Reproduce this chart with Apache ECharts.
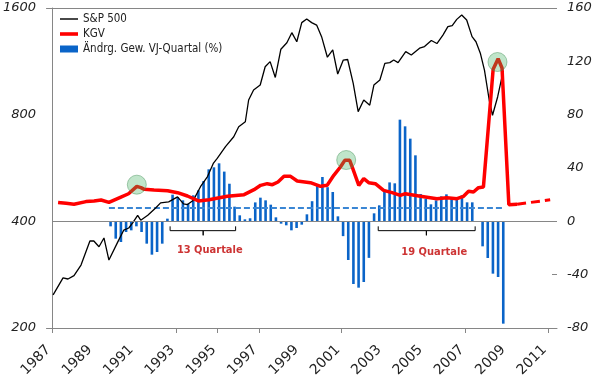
<!DOCTYPE html>
<html>
<head>
<meta charset="utf-8">
<script src="https://cdn.jsdelivr.net/npm/echarts@6/dist/echarts.min.js"></script>
<style>
html,body{margin:0;padding:0;background:#fff;}
#chart{width:595px;height:384px;}
</style>
</head>
<body>
<div id="chart"></div>
<script>
// ---------- data ----------
const xTickLabels = [1987,1989,1991,1993,1995,1997,1999,2001,2003,2005,2007,2009,2011];
const xTickMarks = [1987,1993,1995,1997,2001,2007,2011];
const leftTicks = [200,400,800,1600];
const rightTicks = [-80,-40,0,40,80,120,160];

const spYears = [1987.05,1987.53,1987.77,1988.06,1988.40,1988.83,1989.02,1989.27,1989.51,1989.75,1990.18,1990.47,1990.71,1990.90,1991.14,1991.29,1991.63,1992.01,1992.25,1992.64,1993.07,1993.36,1993.55,1993.84,1994.18,1994.52,1994.81,1994.99,1995.39,1995.79,1996.03,1996.35,1996.51,1996.75,1997.07,1997.31,1997.55,1997.80,1998.07,1998.36,1998.60,1998.84,1999.08,1999.32,1999.56,1999.80,2000.04,2000.32,2000.58,2000.82,2001.09,2001.30,2001.57,2001.81,2002.08,2002.37,2002.57,2002.86,2003.10,2003.34,2003.53,2003.74,2004.11,2004.38,2004.78,2005.02,2005.35,2005.62,2005.91,2006.15,2006.36,2006.58,2006.82,2007.06,2007.32,2007.51,2007.72,2007.92,2008.15,2008.31,2008.56,2008.83];
const spValues = [248,277,275,281,301,352,352,339,359,311,350,378,383,396,416,403,416,436,451,454,469,448,446,459,501,535,584,602,650,693,740,764,880,939,970,1092,1129,1019,1224,1277,1363,1285,1455,1490,1455,1432,1328,1162,1218,1042,1141,1145,981,816,880,851,970,1002,1116,1122,1141,1122,1205,1179,1232,1245,1295,1270,1342,1417,1427,1486,1528,1480,1328,1285,1193,1069,880,797,899,1064];

const kgvYears = [1987.29,1987.68,1988.06,1988.64,1989.03,1989.37,1989.75,1990.33,1990.7,1991.1,1991.3,1991.46,1991.93,1992.59,1993.07,1993.55,1994.08,1994.6,1994.84,1995.48,1996.29,1996.77,1997.09,1997.41,1997.66,1997.93,1998.22,1998.54,1998.86,1999.5,1999.99,2000.31,2000.63,2000.95,2001.16,2001.4,2001.55,2001.84,2002.08,2002.32,2002.64,2003.04,2003.45,2003.85,2004.09,2004.82,2005.62,2006.1,2006.59,2006.91,2007.15,2007.39,2007.63,2007.87,2008.34,2008.58,2008.77,2009.1,2009.5];
const kgvValues = [14.2,13.5,12.8,14.8,15.3,16,14.2,18.2,20.7,26.2,25.3,24,23.5,23,21.5,19,15.3,16.25,17,18.75,20,23.75,27,28.25,27.5,29.5,33.75,33.75,30.25,29,26.25,27,34.5,40.75,45.75,45.75,39.5,27,32,29,28.25,23.25,21.5,19.5,20.75,18.75,17,17.75,17,18.75,22.5,22,25.25,25.75,114,122,115,12.5,12.8];

const kgvForecastYears = [2009.5,2011.1];
const kgvForecastValues = [12.8,16.2];

const barFirstQuarter = 1989.83;
const barValues = [-3.75,-13,-15.5,-8,-6.75,-3.75,-8,-16.75,-25,-23,
  -16.75,2,20,18.25,15.75,13.25,19.5,23.25,30.25,39,
  40.5,43.5,37.3,28.2,11,4.5,1.5,2.3,14.2,17.75,
  15.75,12.5,3,-1.75,-3,-6.75,-5,-2.5,5.25,15.1,
  26.5,33.25,25.6,22,3.75,-11.1,-29,-47,-49.75,-45.5,
  -27.4,6,12,22,29.2,28.5,76.25,71.25,62,49.5,
  20.5,17,12.75,15.75,18.75,20.25,17,16.25,19.5,14.25,
  14.25,0,-18.75,-27.5,-39.25,-41.75,-76.75];

const avgYears = [1989.75,2008.83];
const avgValues = [10,10];

const highlightYears = [1991.1,2001.23,2008.55];
const highlightValues = [27.5,46,119.5];

const bracketNames = ['13 Quartale','19 Quartale'];
const bracketStart = [1992.71,2002.78];
const bracketMid = [1994.31,2005.11];
const bracketEnd = [1995.88,2007.47];
const bracketLabelYears = [1994.63,2005.49];
const bracketLabelValues = [-21.75,-23];

// ---------- build ----------
const zip = (a,b) => a.map((v,i)=>[v,b[i]]);
const barData = barValues.map((v,i)=>[barFirstQuarter + i*0.25, v]);
const bracketSeries = bracketNames.map((n,i)=>({
  type:'line', yAxisIndex:1, symbol:'none', silent:true, z:3,
  lineStyle:{color:'#000', width:1},
  data:[[bracketStart[i],-3.75],[bracketStart[i],-7],[bracketMid[i],-7],[bracketMid[i],-10.5],[bracketMid[i],-7],[bracketEnd[i],-7],[bracketEnd[i],-3.75]]
}));

const AX = '#868686';
const chart = echarts.init(document.getElementById('chart'), null, {renderer:'canvas'});
chart.setOption({
  animation:false,
  backgroundColor:'#fff',
  grid:{left:52, right:38, top:8, bottom:56},
  legend:{
    orient:'vertical', left:55, top:8, itemWidth:18, itemHeight:7, itemGap:3,
    textStyle:{fontFamily:"'DejaVu Sans Condensed','DejaVu Sans',sans-serif", fontSize:11.5, color:'#222'},
    data:[
      {name:'S&P 500', icon:'path://M0 0H20V1.6H0Z', itemStyle:{color:'#000'}},
      {name:'KGV', icon:'path://M0 0H20V4H0Z', itemStyle:{color:'#ff0000'}},
      {name:'Ändrg. Gew. VJ-Quartal (%)', icon:'rect', itemStyle:{color:'#0a64c8'}}
    ]
  },
  xAxis:{
    type:'value', min:1987, max:2011.43,
    splitLine:{show:false},
    axisLine:{onZero:false, lineStyle:{color:AX}},
    axisTick:{show:true, length:5, customValues:xTickMarks, lineStyle:{color:AX}},
    axisLabel:{customValues:xTickLabels, rotate:45, margin:16, padding:[0,5,0,0], fontFamily:'DejaVu Sans', fontSize:14, color:'#222', formatter:v=>String(v)}
  },
  yAxis:[
    {type:'log', logBase:2, min:200, max:1600, position:'left',
     splitLine:{show:false},
     axisLine:{show:true, lineStyle:{color:AX}},
     axisTick:{show:true, length:6, customValues:[200,1600], lineStyle:{color:AX}},
     axisLabel:{customValues:leftTicks, margin:16, fontFamily:'DejaVu Sans', fontStyle:'italic', fontSize:13, color:'#222', formatter:v=>String(Math.round(v))}
    },
    {type:'value', min:-80, max:160, interval:40, position:'right',
     splitLine:{show:false},
     axisLine:{show:false},
     axisTick:{show:true, inside:true, length:5, customValues:[-80,-40,0,160], lineStyle:{color:AX}},
     axisLabel:{margin:10, fontFamily:'DejaVu Sans', fontStyle:'italic', fontSize:13, color:'#222'}
    }
  ],
  series:[
    {name:'Ändrg. Gew. VJ-Quartal (%)', type:'bar', yAxisIndex:1, barWidth:2.6, z:1,
     itemStyle:{color:'#0a64c8'}, data:barData,
     markLine:{silent:true, symbol:['none','none'], label:{show:false}, lineStyle:{color:AX, type:'solid', width:1}, data:[{yAxis:0}]}
    },
    {name:'avg', type:'line', yAxisIndex:1, symbol:'none', silent:true, z:2,
     lineStyle:{color:'#3a86d4', width:2, type:[6,3]}, data:zip(avgYears,avgValues)},
    {name:'S&P 500', type:'line', yAxisIndex:0, symbol:'none', z:4,
     itemStyle:{color:'#000'},
     lineStyle:{color:'#000', width:1.3}, data:zip(spYears,spValues),
     markLine:{silent:true, symbol:['none','none'], label:{show:false}, lineStyle:{color:AX, type:'solid', width:1}, data:[{yAxis:1600}]}
    },
    {name:'KGV', type:'line', yAxisIndex:1, symbol:'none', z:5,
     itemStyle:{color:'#ff0000'},
     lineStyle:{color:'#ff0000', width:3.5}, data:zip(kgvYears,kgvValues)},
    {name:'KGV Prognose', type:'line', yAxisIndex:1, symbol:'none', z:5,
     lineStyle:{color:'#ff0000', width:3, type:[9,5]}, data:zip(kgvForecastYears,kgvForecastValues)},
    {name:'Markierung', type:'scatter', yAxisIndex:1, symbol:'circle', symbolSize:19, z:6, silent:true,
     itemStyle:{color:'rgba(60,175,90,0.4)', borderColor:'rgba(60,140,80,0.55)', borderWidth:1},
     data:zip(highlightYears,highlightValues)},
    ...bracketSeries,
    {name:'Beschriftung', type:'scatter', yAxisIndex:1, symbolSize:0, z:7, silent:true,
     label:{show:true, position:'inside', formatter:p=>p.name, color:'#c00000', fontWeight:'bold',
            fontFamily:"'DejaVu Sans Condensed','DejaVu Sans',sans-serif", fontSize:11},
     data:bracketNames.map((n,i)=>({name:n, value:[bracketLabelYears[i], bracketLabelValues[i]]}))}
  ]
});
</script>
</body>
</html>
